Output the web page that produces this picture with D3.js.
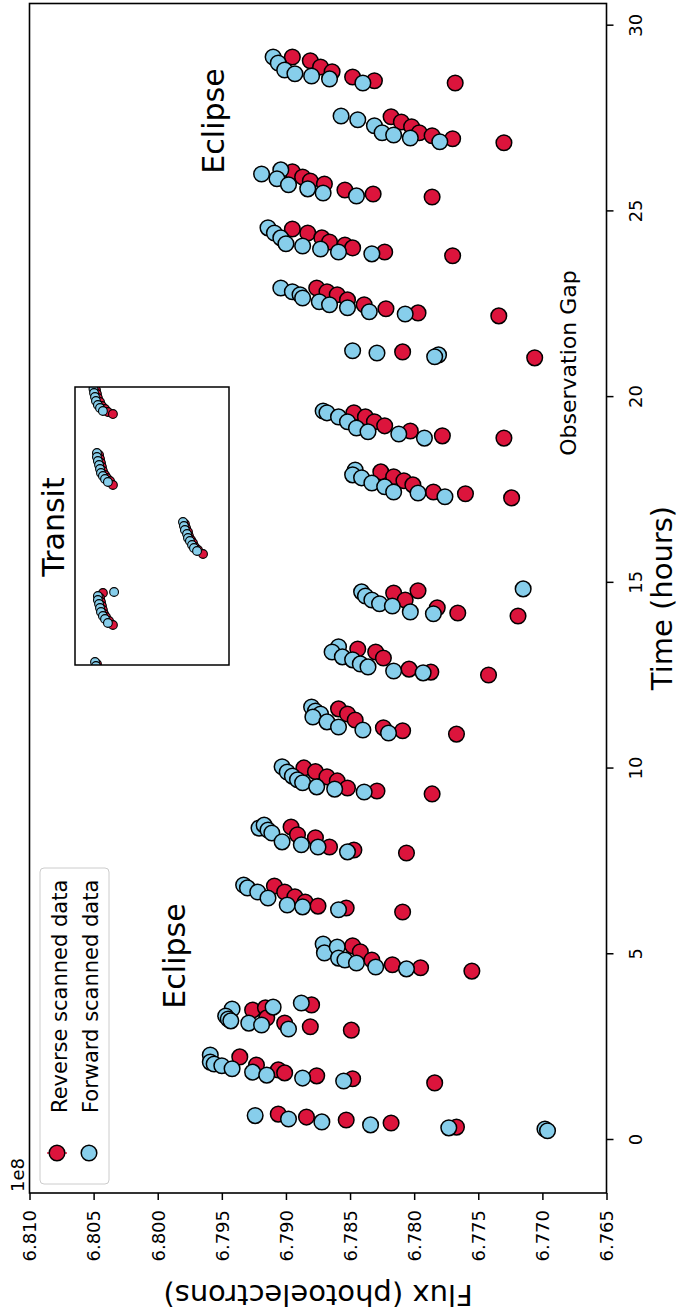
<!DOCTYPE html>
<html>
<head>
<meta charset="utf-8">
<script src="https://cdn.jsdelivr.net/npm/d3@7"></script>
<style>
  body { margin: 0; background: #ffffff; }
  svg { display: block; }
  text { font-family: "DejaVu Sans", sans-serif; fill: #000; }
</style>
</head>
<body>
<svg id="chart" width="680" height="1315"></svg>
<script>
// Tick values
const timeTicks = [0, 5, 10, 15, 20, 25, 30];
const fluxTicks = [6.810, 6.805, 6.800, 6.795, 6.790, 6.785, 6.780, 6.775, 6.770, 6.765];

// Reverse scanned exposures: time (hours) and flux (x 1e8 photoelectrons)
const revHours = [
  0.67, 0.59, 0.51, 0.43, 0.32,
  2.21, 1.99, 1.86, 1.78, 1.70, 1.62, 1.51,
  3.47, 3.53, 3.26, 3.12, 3.61, 3.02, 2.93,
  5.20, 5.04, 4.82, 4.69, 4.61, 4.52,
  6.81, 6.65, 6.52, 6.38, 6.27, 6.22, 6.11,
  8.40, 8.19, 8.11, 7.86, 7.78, 7.70,
  9.99, 9.89, 9.75, 9.64, 9.45, 9.37, 9.29,
  11.58, 11.44, 11.28, 11.07, 10.99, 10.90,
  13.19, 13.11, 12.95, 12.65, 12.57, 12.49,
  14.70, 14.76, 14.51, 14.30, 14.16, 14.08,
  17.96, 17.83, 17.72, 17.61, 17.42, 17.37, 17.26,
  19.55, 19.44, 19.31, 19.20, 19.06, 18.93, 18.87,
  21.19, 21.03,
  22.91, 22.81, 22.73, 22.59, 22.46, 22.35, 22.24, 22.16,
  24.50, 24.39, 24.26, 24.15, 24.07, 23.99, 23.88, 23.78,
  26.04, 25.90, 25.79, 25.71, 25.55, 25.44, 25.36,
  27.52, 27.38, 27.25, 27.09, 27.01, 26.93, 26.82,
  29.13, 29.03, 28.86, 28.73, 28.59, 28.49, 28.43
];
const revFlux = [
  6.7906, 6.7884, 6.7853, 6.7818, 6.7767,
  6.7936, 6.7923, 6.7906, 6.7901, 6.7876, 6.7848, 6.7784,
  6.7926, 6.7916, 6.7915, 6.7901, 6.7880, 6.7881, 6.7849,
  6.7848, 6.7842, 6.7833, 6.7817, 6.7795, 6.7755,
  6.7909, 6.7901, 6.7893, 6.7885, 6.7875, 6.7853, 6.7809,
  6.7896, 6.7891, 6.7877, 6.7866, 6.7847, 6.7806,
  6.7886, 6.7877, 6.7868, 6.7860, 6.7852, 6.7829, 6.7786,
  6.7859, 6.7852, 6.7846, 6.7824, 6.7809, 6.7767,
  6.7844, 6.7830, 6.7824, 6.7804, 6.7787, 6.7742,
  6.7816, 6.7797, 6.7807, 6.7782, 6.7766, 6.7719,
  6.7826, 6.7816, 6.7808, 6.7801, 6.7785, 6.7760, 6.7724,
  6.7847, 6.7838, 6.7831, 6.7823, 6.7803, 6.7778, 6.7730,
  6.7809, 6.7706,
  6.7876, 6.7868, 6.7860, 6.7852, 6.7839, 6.7822, 6.7797, 6.7734,
  6.7895, 6.7883, 6.7872, 6.7866, 6.7854, 6.7848, 6.7823, 6.7770,
  6.7895, 6.7887, 6.7881, 6.7870, 6.7854, 6.7832, 6.7786,
  6.7818, 6.7810, 6.7802, 6.7796, 6.7786, 6.7770, 6.7730,
  6.7895, 6.7881, 6.7873, 6.7864, 6.7848, 6.7831, 6.7768
];

// Forward scanned exposures
const fwdHours = [
  0.63, 0.54, 0.46, 0.38, 0.30, 0.27, 0.22,
  2.26, 2.07, 2.02, 1.97, 1.89, 1.80, 1.72, 1.64, 1.56,
  3.50, 3.31, 3.23, 3.18, 3.12, 3.07, 3.55, 2.96, 3.66,
  5.25, 5.01, 5.17, 4.87, 4.82, 4.74, 4.63, 4.58,
  6.84, 6.76, 6.65, 6.49, 6.30, 6.25, 6.17,
  8.37, 8.45, 8.32, 8.24, 8.00, 7.92, 7.86, 7.73,
  10.02, 9.88, 9.77, 9.67, 9.59, 9.48, 9.42, 9.34,
  11.63, 11.52, 11.44, 11.36, 11.23, 11.09, 11.01, 10.93,
  13.25, 13.11, 12.98, 12.90, 12.79, 12.71, 12.60, 12.55,
  14.73, 14.62, 14.51, 14.41, 14.35, 14.19, 14.14, 14.81,
  18.01, 17.88, 17.80, 17.66, 17.56, 17.42, 17.39, 17.29,
  19.60, 19.55, 19.44, 19.31, 19.14, 19.04, 18.98, 18.87,
  21.22, 21.16, 21.11, 21.06,
  22.91, 22.81, 22.73, 22.64, 22.54, 22.46, 22.38, 22.27, 22.21,
  24.53, 24.39, 24.26, 24.10, 24.04, 23.96, 23.88, 23.83,
  25.98, 26.09, 25.85, 25.69, 25.58, 25.47, 25.39,
  27.54, 27.44, 27.28, 27.09, 27.03, 26.95, 26.85,
  29.13, 28.97, 28.78, 28.68, 28.62, 28.54, 28.43
];
const fwdFlux = [
  6.7924, 6.7898, 6.7872, 6.7834, 6.7773, 6.7698, 6.7696,
  6.7959, 6.7959, 6.7956, 6.7950, 6.7942, 6.7926, 6.7915, 6.7887, 6.7855,
  6.7942, 6.7947, 6.7945, 6.7943, 6.7929, 6.7919, 6.7910, 6.7898, 6.7888,
  6.7871, 6.7870, 6.7860, 6.7859, 6.7854, 6.7845, 6.7830, 6.7806,
  6.7933, 6.7930, 6.7922, 6.7914, 6.7899, 6.7887, 6.7859,
  6.7921, 6.7917, 6.7914, 6.7911, 6.7903, 6.7888, 6.7875, 6.7852,
  6.7903, 6.7899, 6.7895, 6.7891, 6.7887, 6.7876, 6.7862, 6.7839,
  6.7880, 6.7877, 6.7873, 6.7879, 6.7868, 6.7859, 6.7840, 6.7820,
  6.7859, 6.7864, 6.7856, 6.7848, 6.7842, 6.7836, 6.7816, 6.7793,
  6.7841, 6.7838, 6.7833, 6.7827, 6.7817, 6.7803, 6.7785, 6.7715,
  6.7846, 6.7848, 6.7841, 6.7833, 6.7823, 6.7816, 6.7797, 6.7776,
  6.7871, 6.7868, 6.7859, 6.7852, 6.7845, 6.7836, 6.7812, 6.7792,
  6.7848, 6.7829, 6.7781, 6.7784,
  6.7904, 6.7895, 6.7889, 6.7887, 6.7874, 6.7866, 6.7852, 6.7835, 6.7807,
  6.7914, 6.7909, 6.7904, 6.7900, 6.7887, 6.7873, 6.7859, 6.7833,
  6.7919, 6.7904, 6.7907, 6.7898, 6.7883, 6.7871, 6.7845,
  6.7857, 6.7844, 6.7831, 6.7825, 6.7816, 6.7803, 6.7780,
  6.7910, 6.7906, 6.7901, 6.7893, 6.7880, 6.7866, 6.7840
];

// Transit close-up: hours within the window and relative flux
const insetRevHours = [
  6.523, 6.430, 6.336, 6.243, 6.149, 6.056, 5.986, 5.915, 5.868,
  4.910, 4.816, 4.723, 4.629, 4.536, 4.442, 4.372, 4.302, 4.209,
  3.297, 3.203, 3.110, 3.016, 2.923, 2.852, 2.759, 2.689, 2.595,
  1.683, 1.567, 1.473, 1.379, 1.286, 1.192, 1.122, 1.029, 0.935,
  0.023, -0.070
];
const insetRevFlux = [
  0.99946, 0.99941, 0.99936, 0.99931, 0.99920, 0.99910, 0.99894, 0.99879, 0.99853,
  0.99925, 0.99920, 0.99915, 0.99910, 0.99905, 0.99894, 0.99884, 0.99868, 0.99853,
  0.99479, 0.99473, 0.99463, 0.99458, 0.99447, 0.99437, 0.99427, 0.99411, 0.99385,
  0.99905, 0.99920, 0.99915, 0.99910, 0.99905, 0.99899, 0.99889, 0.99873, 0.99853,
  0.99936, 0.99931
];
const insetFwdHours = [
  6.664, 6.547, 6.453, 6.360, 6.266, 6.173, 6.079, 6.009, 5.939,
  4.957, 4.863, 4.770, 4.676, 4.583, 4.489, 4.419, 4.349, 4.279,
  3.343, 3.250, 3.156, 3.063, 2.969, 2.899, 2.806, 2.736, 2.665,
  1.707, 1.613, 1.520, 1.426, 1.333, 1.239, 1.146, 1.076, 0.982,
  0.070, -0.023, -0.117
];
const insetFwdFlux = [
  0.99962, 0.99956, 0.99954, 0.99951, 0.99946, 0.99941, 0.99931, 0.99920, 0.99905,
  0.99936, 0.99936, 0.99931, 0.99925, 0.99920, 0.99915, 0.99905, 0.99894, 0.99879,
  0.99489, 0.99484, 0.99479, 0.99468, 0.99463, 0.99453, 0.99442, 0.99432, 0.99416,
  0.99847, 0.99931, 0.99931, 0.99925, 0.99920, 0.99915, 0.99905, 0.99894, 0.99879,
  0.99946, 0.99941, 0.99936
];

const RED = "#DC143C";
const BLUE = "#87CEEB";

const svg = d3.select("#chart");

// Plot frame (the figure is laid out with time running up the page)
const frame = { left: 29.5, right: 606.5, top: 3.5, bottom: 1193 };

const x = d3.scaleLinear().domain([6.810, 6.765]).range([frame.left, frame.right]);
const y = d3.scaleLinear().domain([-1.454, 30.57]).range([frame.bottom, frame.top]);

// Flux axis along the bottom, labels reading upward
const xAxis = svg.append("g")
  .attr("transform", `translate(0,${frame.bottom})`)
  .call(d3.axisBottom(x).tickValues(fluxTicks).tickSize(7).tickFormat(d3.format(".3f")));
xAxis.select(".domain").remove();
xAxis.selectAll(".tick line").attr("stroke", "#000").attr("stroke-width", 1.5);
xAxis.selectAll(".tick text")
  .attr("transform", "rotate(-90)")
  .attr("x", -17).attr("y", 0).attr("dy", "0.35em")
  .attr("text-anchor", "end")
  .style("font-size", "18px")
  .style("font-family", "DejaVu Sans, sans-serif");

// Time axis on the right
const yAxis = svg.append("g")
  .attr("transform", `translate(${frame.right},0)`)
  .call(d3.axisRight(y).tickValues(timeTicks).tickSize(7));
yAxis.select(".domain").remove();
yAxis.selectAll(".tick line").attr("stroke", "#000").attr("stroke-width", 1.5);
yAxis.selectAll(".tick text")
  .attr("transform", "rotate(-90)")
  .attr("x", 0).attr("y", 35.5).attr("dy", 0)
  .attr("text-anchor", "middle")
  .style("font-size", "18px")
  .style("font-family", "DejaVu Sans, sans-serif");

// Data points: reverse scans first, forward scans on top
const marker = { r: 7.8, sw: 1.5 };
svg.append("g").selectAll("circle")
  .data(d3.range(revHours.length))
  .join("circle")
  .attr("cx", i => x(revFlux[i]))
  .attr("cy", i => y(revHours[i]))
  .attr("r", marker.r)
  .attr("fill", RED).attr("stroke", "#000").attr("stroke-width", marker.sw);

svg.append("g").selectAll("circle")
  .data(d3.range(fwdHours.length))
  .join("circle")
  .attr("cx", i => x(fwdFlux[i]))
  .attr("cy", i => y(fwdHours[i]))
  .attr("r", marker.r)
  .attr("fill", BLUE).attr("stroke", "#000").attr("stroke-width", marker.sw);

// Frame
svg.append("rect")
  .attr("x", frame.left).attr("y", frame.top)
  .attr("width", frame.right - frame.left).attr("height", frame.bottom - frame.top)
  .attr("fill", "none").attr("stroke", "#000").attr("stroke-width", 1.6);

// Transit close-up panel
const inset = { left: 75, right: 229, top: 387, bottom: 665 };
const ix = d3.scaleLinear().domain([1.0005, 0.9925]).range([inset.left, inset.right]);
const iy = d3.scaleLinear().domain([0, 6.5]).range([inset.bottom, inset.top]);

svg.append("defs").append("clipPath").attr("id", "insetClip")
  .append("rect")
  .attr("x", inset.left).attr("y", inset.top)
  .attr("width", inset.right - inset.left).attr("height", inset.bottom - inset.top);

svg.append("rect")
  .attr("x", inset.left).attr("y", inset.top)
  .attr("width", inset.right - inset.left).attr("height", inset.bottom - inset.top)
  .attr("fill", "#fff");

const ig = svg.append("g").attr("clip-path", "url(#insetClip)");
ig.append("g").selectAll("circle")
  .data(d3.range(insetRevHours.length))
  .join("circle")
  .attr("cx", i => ix(insetRevFlux[i]))
  .attr("cy", i => iy(insetRevHours[i]))
  .attr("r", 4.4)
  .attr("fill", RED).attr("stroke", "#000").attr("stroke-width", 1.1);
ig.append("g").selectAll("circle")
  .data(d3.range(insetFwdHours.length))
  .join("circle")
  .attr("cx", i => ix(insetFwdFlux[i]))
  .attr("cy", i => iy(insetFwdHours[i]))
  .attr("r", 4.4)
  .attr("fill", BLUE).attr("stroke", "#000").attr("stroke-width", 1.1);

svg.append("rect")
  .attr("x", inset.left).attr("y", inset.top)
  .attr("width", inset.right - inset.left).attr("height", inset.bottom - inset.top)
  .attr("fill", "none").attr("stroke", "#000").attr("stroke-width", 1.5);

// Legend
const lg = svg.append("g");
lg.append("rect")
  .attr("x", 40).attr("y", 868).attr("width", 69).attr("height", 316)
  .attr("rx", 4)
  .attr("fill", "#fff").attr("fill-opacity", 0.8)
  .attr("stroke", "#cccccc").attr("stroke-width", 1);
const legendItems = [
  { label: "Reverse scanned data", color: RED, cx: 57, base: 66.5 },
  { label: "Forward scanned data", color: BLUE, cx: 89, base: 98 }
];
legendItems.forEach(d => {
  if (d.color === RED) {
    lg.append("line")
      .attr("x1", d.cx - 10).attr("x2", d.cx + 10)
      .attr("y1", 1153).attr("y2", 1153)
      .attr("stroke", RED).attr("stroke-width", 1.5);
  }
  lg.append("circle")
    .attr("cx", d.cx).attr("cy", 1153).attr("r", marker.r)
    .attr("fill", d.color).attr("stroke", "#000").attr("stroke-width", marker.sw);
  lg.append("text")
    .attr("transform", `translate(${d.base},1113) rotate(-90)`)
    .attr("text-anchor", "start")
    .style("font-size", "21px")
    .text(d.label);
});

// Axis labels and annotations
function rotatedText(tx, ty, angle, size, anchor, str) {
  svg.append("text")
    .attr("transform", `translate(${tx},${ty}) rotate(${angle})`)
    .attr("text-anchor", anchor)
    .style("font-size", size + "px")
    .text(str);
}
rotatedText(672, 598, -90, 29, "middle", "Time (hours)");
rotatedText(318, 1285, 180, 29, "middle", "Flux (photoelectrons)");
rotatedText(24, 1192, -90, 18, "start", "1e8");
rotatedText(185, 956, -90, 30, "middle", "Eclipse");
rotatedText(224, 121, -90, 30, "middle", "Eclipse");
rotatedText(64, 527, -90, 30, "middle", "Transit");
rotatedText(576, 363, -90, 22, "middle", "Observation Gap");
</script>
</body>
</html>
